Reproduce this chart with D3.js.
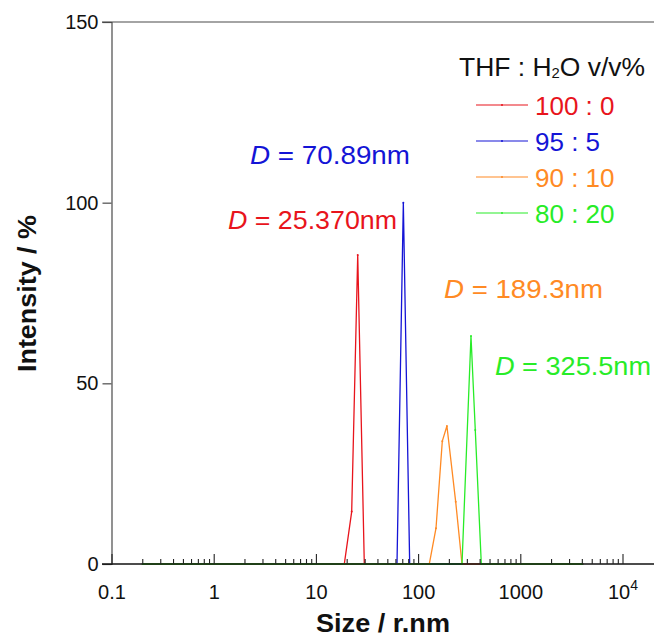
<!DOCTYPE html>
<html>
<head>
<meta charset="utf-8">
<script src="https://cdn.jsdelivr.net/npm/d3@7"></script>
<style>
  html, body { margin: 0; padding: 0; background: #fff; }
  svg { display: block; font-family: "Liberation Sans", Arial, sans-serif; }
</style>
</head>
<body>
<svg id="chart" width="654" height="639"></svg>
<script>
// Size distributions (intensity %) for THF : H2O mixtures
const seriesNames = ["100 : 0", "95 : 5", "90 : 10", "80 : 20"];
const seriesColors = ["#e8141c", "#1414d6", "#ff8a24", "#28ec28"];

const sizeRed    = [0.2, 18.75, 22.15, 25.37, 29.42, 4000];
const valueRed   = [0,   0,     14.5,  85.5,  0,     0];
const sizeBlue   = [0.2, 61.46, 70.89, 81.8, 4000];
const valueBlue  = [0,   0,     100,   0,    0];
const sizeOrange = [0.2, 127.2, 148.0, 170.6, 189.3, 230.7, 265.9, 4000];
const valueOrange= [0,   0,     9.9,   34.0,  38.2,  17.2,  0,     0];
const sizeGreen  = [0.2, 265.9, 325.5, 358.6, 410.7, 4000];
const valueGreen = [0,   0,     63.1,  37.1,  0,     0];

const peakLabels = ["25.370nm", "70.89nm", "189.3nm", "325.5nm"];

const yTicks = [0, 50, 100, 150];
const xMajorTicks = [0.1, 1, 10, 100, 1000, 10000];
const xTickLabels = ["0.1", "1", "10", "100", "1000", "10^4"];

const series = [
  { sizes: sizeRed, values: valueRed },
  { sizes: sizeBlue, values: valueBlue },
  { sizes: sizeOrange, values: valueOrange },
  { sizes: sizeGreen, values: valueGreen }
].map((s, i) => ({
  name: seriesNames[i],
  color: seriesColors[i],
  points: s.sizes.map((d, j) => ({ x: d, y: s.values[j] }))
}));

const svg = d3.select("#chart");

const x = d3.scaleLog().domain([0.1, 10000]).range([112, 623]);
const y = d3.scaleLinear().domain([0, 150]).range([564, 22]);
const xLeft = 111.5, xRight = 654;

// data lines
const line = d3.line().x(d => x(d.x)).y(d => y(d.y));
const plot = svg.append("g");
series.forEach(s => {
  plot.append("path")
    .datum(s.points)
    .attr("fill", "none")
    .attr("stroke", s.color)
    .attr("stroke-width", 1.3)
    .attr("stroke-linejoin", "miter")
    .attr("d", line);
  plot.selectAll(null)
    .data(s.points)
    .join("circle")
    .attr("cx", d => x(d.x))
    .attr("cy", d => y(d.y))
    .attr("r", 1)
    .attr("fill", s.color);
});

// frame lines
const axisColor = "#4a4a4a";
svg.append("line")
  .attr("x1", 102).attr("x2", xRight)
  .attr("y1", y(150)).attr("y2", y(150))
  .attr("stroke", axisColor).attr("stroke-width", 1.2);

// y axis: outward ticks on the left
const yAxis = d3.axisLeft(y).tickValues(yTicks).tickSize(9).tickPadding(4).tickFormat(d3.format("d"));
const yg = svg.append("g").attr("transform", `translate(${xLeft},0)`).call(yAxis);
yg.select(".domain").attr("stroke", axisColor).attr("stroke-width", 1.2);
yg.selectAll(".tick line").attr("stroke", axisColor).attr("stroke-width", 1.2);
yg.selectAll(".tick text")
  .attr("font-size", 20).attr("fill", "#111")
  .attr("font-family", "Liberation Sans, Arial, sans-serif");

// x axis line
svg.append("line")
  .attr("x1", 102).attr("x2", xRight)
  .attr("y1", y(0)).attr("y2", y(0))
  .attr("stroke", "#111").attr("stroke-width", 1.4);

// x ticks pointing up into the plot
const minorTicks = [];
for (let k = 0; k < xMajorTicks.length - 1; k++) {
  for (let m = 2; m <= 9; m++) minorTicks.push(xMajorTicks[k] * m);
}
const xg = svg.append("g");
xg.selectAll(".minor")
  .data(minorTicks)
  .join("line")
  .attr("x1", d => x(d)).attr("x2", d => x(d))
  .attr("y1", y(0)).attr("y2", y(0) - 5)
  .attr("stroke", "#222").attr("stroke-width", 1.1);
xg.selectAll(".major")
  .data(xMajorTicks)
  .join("line")
  .attr("x1", d => x(d)).attr("x2", d => x(d))
  .attr("y1", y(0)).attr("y2", y(0) - 10)
  .attr("stroke", "#222").attr("stroke-width", 1.1);

const xLab = xg.selectAll(".xlab")
  .data(xMajorTicks)
  .join("text")
  .attr("x", d => x(d))
  .attr("y", 599)
  .attr("text-anchor", "middle")
  .attr("font-size", 20)
  .attr("fill", "#111");
xLab.each(function(d, i) {
  const t = d3.select(this);
  const lab = xTickLabels[i];
  if (lab.includes("^")) {
    const [b, e] = lab.split("^");
    t.append("tspan").text(b);
    t.append("tspan").attr("font-size", 14).attr("dy", -9).text(e);
  } else {
    t.text(lab);
  }
});

// axis titles (slightly wide lettering)
svg.append("text")
  .attr("x", 316).attr("y", 632)
  .attr("font-size", 26).attr("font-weight", "bold")
  .attr("textLength", 134).attr("lengthAdjust", "spacingAndGlyphs")
  .attr("fill", "#111")
  .text("Size / r.nm");
svg.append("text")
  .attr("transform", "translate(36,372) rotate(-90)")
  .attr("font-size", 26).attr("font-weight", "bold")
  .attr("textLength", 157).attr("lengthAdjust", "spacingAndGlyphs")
  .attr("fill", "#111")
  .text("Intensity / %");

// peak annotations
const labelPos = [
  { x: 228, y: 229, w: 169 },
  { x: 250, y: 164, w: 160 },
  { x: 444, y: 298, w: 159 },
  { x: 495, y: 375, w: 156 }
];
labelPos.forEach((p, i) => {
  const t = svg.append("text")
    .attr("x", p.x).attr("y", p.y)
    .attr("font-size", 26)
    .attr("textLength", p.w).attr("lengthAdjust", "spacingAndGlyphs")
    .attr("fill", seriesColors[i]);
  t.append("tspan").attr("font-style", "italic").text("D");
  t.append("tspan").text(" = " + peakLabels[i]);
});

// legend
const legend = svg.append("g");
const title = legend.append("text")
  .attr("x", 459).attr("y", 76)
  .attr("font-size", 25)
  .attr("textLength", 186).attr("lengthAdjust", "spacingAndGlyphs")
  .attr("fill", "#111");
title.append("tspan").text("THF : H");
title.append("tspan").attr("font-size", 14).attr("dy", 2).text("2");
title.append("tspan").attr("dy", -2).text("O v/v%");

const rowY = [105, 141, 177, 213];
series.forEach((s, i) => {
  legend.append("line")
    .attr("x1", 476).attr("x2", 528)
    .attr("y1", rowY[i]).attr("y2", rowY[i])
    .attr("stroke", s.color).attr("stroke-width", 1.2);
  legend.append("circle")
    .attr("cx", 502).attr("cy", rowY[i]).attr("r", 1)
    .attr("fill", s.color);
  legend.append("text")
    .attr("x", 535).attr("y", rowY[i] + 10)
    .attr("font-size", 26)
    .attr("fill", s.color)
    .text(s.name);
});
</script>
</body>
</html>
